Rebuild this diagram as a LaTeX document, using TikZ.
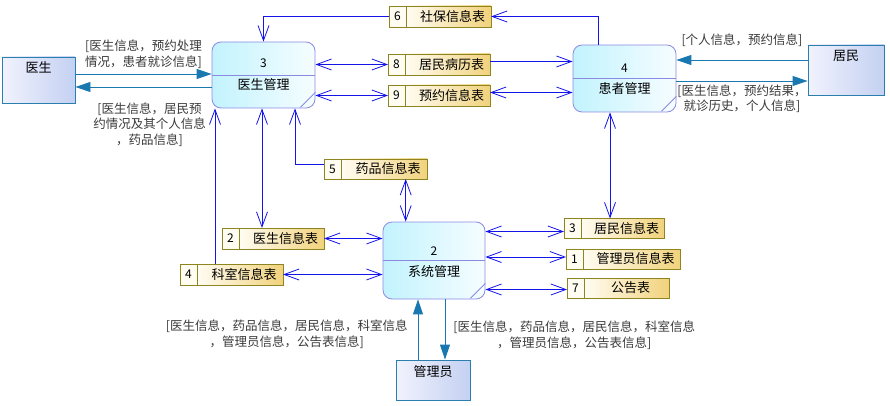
\documentclass[tikz,border=0pt]{standalone}
\usepackage{fontspec}
\setmainfont{Noto Sans CJK SC}
\usetikzlibrary{arrows.meta,positioning}
\usepackage{xcolor}
\definecolor{procleft}{HTML}{C2F3FE}
\definecolor{procright}{HTML}{F6FDFF}
\definecolor{procline}{HTML}{8A8AE2}
\definecolor{entleft}{HTML}{F1F2FD}
\definecolor{entright}{HTML}{C4D1F2}
\definecolor{entline}{HTML}{2A7FAE}
\definecolor{storeleft}{HTML}{FFFCF2}
\definecolor{storeright}{HTML}{F1D27C}
\definecolor{storeline}{HTML}{8E8420}
\definecolor{linkblue}{HTML}{1414E8}
\definecolor{flowteal}{HTML}{1A78B0}
\definecolor{labelgray}{HTML}{3A3A3A}
\tikzset{
  proc/.style={draw=procline, line width=0.8pt, rounded corners=9pt, left color=procleft, right color=procright, minimum width=103pt, minimum height=66pt, inner sep=0pt},
  procno/.style={font=\fontsize{12}{12}\selectfont, inner sep=1pt},
  proctext/.style={font=\fontsize{13}{13}\selectfont, inner sep=1pt},
  procrule/.style={draw=procline, line width=0.8pt},
  entity/.style={draw=entline, line width=0.9pt, left color=entleft, right color=entright, inner sep=0pt},
  enttext/.style={font=\fontsize{13}{13}\selectfont, inner sep=1pt},
  storeno/.style={draw=storeline, line width=0.8pt, fill=storeleft, minimum width=17pt, minimum height=21pt, inner sep=0pt, outer sep=0pt, font=\fontsize{12}{12}\selectfont},
  store/.style={draw=storeline, line width=0.8pt, left color=storeleft, right color=storeright, minimum height=21pt, inner sep=0pt, outer sep=0pt, font=\fontsize{13}{13}\selectfont},
  link/.style={-{Straight Barb[length=15pt,width=11pt]}, draw=linkblue, line width=0.8pt},
  dlink/.style={{Straight Barb[length=15pt,width=11pt]}-{Straight Barb[length=15pt,width=11pt]}, draw=linkblue, line width=0.8pt},
  flow/.style={-{Triangle[length=15pt,width=10pt]}, draw=flowteal, line width=0.9pt},
  flowlabel/.style={font=\fontsize{12.5}{15.5}\selectfont, text=labelgray, align=center, inner sep=1pt}
}
\begin{document}
\begin{tikzpicture}[x=1pt, y=-1pt]
  \useasboundingbox (0,0) rectangle (890,406);
  % external entities
  \node[entity, minimum width=73pt, minimum height=46pt] (doc) at (38.5,80) {};
  \node[enttext] (doct) at ([yshift=-11pt]doc.north) {医生};
  \node[entity, minimum width=76pt, minimum height=50pt] (res) at (846,70) {};
  \node[enttext] (rest) at ([yshift=-11pt]res.north) {居民};
  \node[entity, minimum width=74pt, minimum height=40pt] (adm) at (433,380) {};
  \node[enttext] (admt) at ([yshift=-12pt]adm.north) {管理员};
  % processes
  \node[proc] (p3) at (263.5,75) {};
  \draw[procrule] (p3.west) -- (p3.east);
  \draw[procrule] ([xshift=-15pt,yshift=1pt]p3.south east) -- ([yshift=16pt]p3.south east);
  \node[procno] (p3n) at ([yshift=12pt]p3.center) {3};
  \node[proctext] (p3t) at ([yshift=-10pt]p3.center) {医生管理};
  \node[proc, minimum height=67pt] (p4) at (624.5,78.5) {};
  \draw[procrule] (p4.west) -- (p4.east);
  \draw[procrule] ([xshift=-15pt,yshift=1pt]p4.south east) -- ([yshift=16pt]p4.south east);
  \node[procno] (p4n) at ([yshift=10.5pt]p4.center) {4};
  \node[proctext] (p4t) at ([yshift=-10.5pt]p4.center) {患者管理};
  \node[proc, minimum width=102pt, minimum height=77pt] (p2) at (434,260.5) {};
  \draw[procrule] (p2.west) -- (p2.east);
  \draw[procrule] ([xshift=-15pt,yshift=1pt]p2.south east) -- ([yshift=16pt]p2.south east);
  \node[procno] (p2n) at ([yshift=9pt]p2.center) {2};
  \node[proctext] (p2t) at ([yshift=-11.5pt]p2.center) {系统管理};
  % data stores
  \node[storeno] (s6n) at (397.5,16.5) {6};
  \node[store, minimum width=85pt, right=0pt of s6n] (s6) {\hspace*{8pt}社保信息表};
  \node[storeno] (s8n) at (396.5,64.5) {8};
  \node[store, minimum width=85pt, right=0pt of s8n] (s8) {\hspace*{8pt}居民病历表};
  \node[storeno] (s9n) at (396.5,95.5) {9};
  \node[store, minimum width=85pt, right=0pt of s9n] (s9) {\hspace*{8pt}预约信息表};
  \node[storeno, minimum height=20pt] (s5n) at (332.5,169) {5};
  \node[store, minimum height=20pt, minimum width=86pt, right=0pt of s5n] (s5) {\hspace*{8pt}药品信息表};
  \node[storeno] (s2n) at (230.5,238.5) {2};
  \node[store, minimum width=85pt, right=0pt of s2n] (s2) {\hspace*{8pt}医生信息表};
  \node[storeno] (s4n) at (188.5,274.5) {4};
  \node[store, minimum width=86pt, right=0pt of s4n] (s4) {\hspace*{8pt}科室信息表};
  \node[storeno, minimum height=20pt] (s3n) at (572.5,228.5) {3};
  \node[store, minimum height=20pt, minimum width=83pt, right=0pt of s3n] (s3) {\hspace*{8pt}居民信息表};
  \node[storeno, minimum height=20pt] (s1n) at (574.5,259) {1};
  \node[store, minimum height=20pt, minimum width=97pt, right=0pt of s1n] (s1) {\hspace*{8pt}管理员信息表};
  \node[storeno, minimum height=20pt] (s7n) at (575.5,288) {7};
  \node[store, minimum height=20pt, minimum width=85pt, right=0pt of s7n] (s7) {\hspace*{8pt}公告表};
  % store links
  \draw[link] (s6n.west) -| (p3.north);
  \draw[link] ([xshift=-26.5pt]p4.north) |- (s6.east);
  \draw[dlink] (s8n.west) -- (s8n.west -| p3.east);
  \draw[dlink] (s9n.west) -- (s9n.west -| p3.east);
  \draw[link] ([yshift=3pt]s8.east) -- ([yshift=3pt]s8.east -| p4.west);
  \draw[dlink] ([yshift=3pt]s9.east) -- ([yshift=3pt]s9.east -| p4.west);
  \draw[link] ([xshift=-25pt]s4.north) -- ([xshift=-25pt]s4.north |- p3.south);
  \draw[dlink] ([xshift=-19.5pt]s2.north) -- ([xshift=-19.5pt]s2.north |- p3.south);
  \draw[link] ([yshift=5pt]s5n.west) -| ([xshift=31.5pt]p3.south);
  \draw[dlink] ([xshift=21.7pt]s5.south) -- ([xshift=21.7pt]s5.south |- p2.north);
  \draw[dlink] (s2.east) -- (s2.east -| p2.west);
  \draw[dlink] (s4.east) -- (s4.east -| p2.west);
  \draw[dlink] ([yshift=-3pt]s3n.west) -- ([yshift=-3pt]s3n.west -| p2.east);
  \draw[dlink] ([yshift=2pt]s1n.west) -- ([yshift=2pt]s1n.west -| p2.east);
  \draw[dlink] ([yshift=-1.5pt]s7n.west) -- ([yshift=-1.5pt]s7n.west -| p2.east);
  \draw[dlink] ([xshift=-12.5pt]s3.north) -- ([xshift=-12.5pt]s3.north |- p4.south);
  % data flows
  \draw[flow] ([yshift=6pt]doc.east) -- ([yshift=6pt]doc.east -| p3.west)
    node[flowlabel, midway, above=4pt] (fl1) {[医生信息，预约处理\\情况，患者就诊信息]};
  \draw[flow] ([yshift=-12pt]p3.west) -- ([yshift=-12pt]p3.west -| doc.east)
    node[flowlabel, midway, below=14pt, xshift=6pt] (fl2) {[医生信息，居民预\\约情况及其个人信息\\，药品信息]};
  \draw[flow] ([yshift=10pt]res.west) -- ([yshift=10pt]res.west -| p4.east)
    node[flowlabel, midway, above=12pt] (fl3) {[个人信息，预约信息]};
  \draw[flow] ([yshift=-11pt]res.west -| p4.east) -- ([yshift=-11pt]res.west)
    node[flowlabel, midway, below=2pt] (fl4) {[医生信息，预约结果，\\就诊历史，个人信息]};
  \draw[flow] ([xshift=-15pt]adm.north) -- ([xshift=-15pt]adm.north |- p2.south)
    node[flowlabel, midway, left=9pt, yshift=-5pt] (fl5) {[医生信息，药品信息，居民信息，科室信息\\，管理员信息，公告表信息]};
  \draw[flow] ([xshift=12pt]adm.north |- p2.south) -- ([xshift=12pt]adm.north)
    node[flowlabel, midway, right=7pt, yshift=-6pt] (fl6) {[医生信息，药品信息，居民信息，科室信息\\，管理员信息，公告表信息]};
\end{tikzpicture}
\end{document}
